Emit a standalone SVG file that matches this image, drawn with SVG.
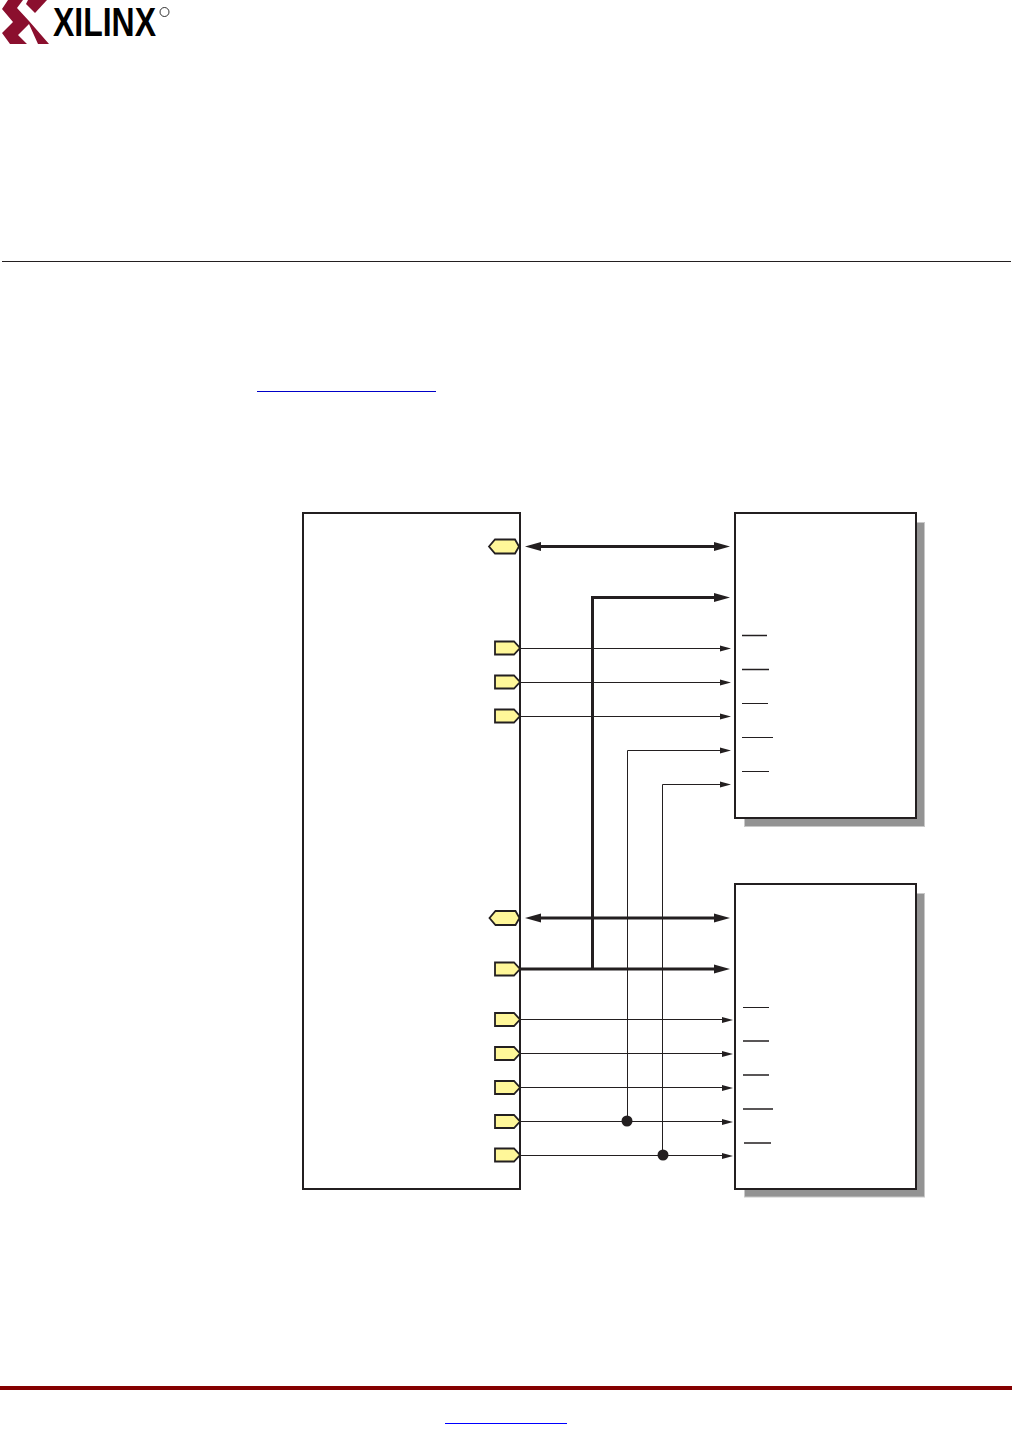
<svg xmlns="http://www.w3.org/2000/svg" width="1012" height="1448" viewBox="0 0 1012 1448">
<style>
.box{fill:#fff;stroke:#231f20;stroke-width:2}
.shadow{fill:#939393;stroke:#c8c8c8;stroke-width:1}
.port{fill:#fff799;stroke:#231f20;stroke-width:1.8}
.thin{fill:none;stroke:#231f20;stroke-width:1}
.thick{fill:none;stroke:#231f20;stroke-width:3}
.bar{stroke:#231f20;stroke-width:1.6}
.barthin{stroke:#231f20;stroke-width:1}
.ah{fill:#231f20}
.dot{fill:#231f20}
</style>
<defs>
<polygon id="p" class="port" points="-25,-6.5 -6,-6.5 0,0 -6,6.5 -25,6.5"/>
<polygon id="b" class="port" points="-30,0 -24,-7 -4,-7 0,0 -4,7 -24,7"/>
<polygon id="as" class="ah" points="0,0 -11,-3 -11,3"/>
<polygon id="al" class="ah" points="0,0 -16,-4.500 -16,4.500"/>
</defs>
<rect width="1012" height="1448" fill="#fff"/>
<g id="logo">
<polygon fill="#8b0f2e" points="8,0 23,0 17,8 29,21 49,44 38,44 29,24 18,35 27,44 10,44 2,33 13,22 2,9"/>
<polygon fill="#8b0f2e" points="28,0 47,0 35,13 26,4"/>
<text x="53" y="36" font-family="'Liberation Sans',sans-serif" font-size="40" font-weight="700" textLength="103" lengthAdjust="spacingAndGlyphs" fill="#000">XILINX</text>
<circle cx="164.500" cy="12" r="4.500" fill="none" stroke="#000" stroke-width="0.800"/>
</g>
<rect id="header-rule" x="2" y="261" width="1009" height="1" fill="#231f20"/>
<rect id="link-rule" x="257" y="391" width="179" height="1" fill="#0000c8"/>
<rect id="footer-bar" x="0" y="1386" width="1012" height="4" fill="#850000"/>
<rect id="footer-link" x="445" y="1423" width="122" height="1" fill="#0000ff"/>
<g id="fpga"><rect class="box" x="303" y="513" width="217" height="676"/></g>
<g id="mem-top">
<rect class="shadow" x="744.500" y="522.500" width="180" height="304"/>
<rect class="box" x="735" y="513" width="181" height="305"/>
<path class="bar" d="M742 635.500H767M742 669.500H769"/>
<path class="barthin" d="M742 703.500H768M742 737.500H773M742 771.500H769"/>
</g>
<g id="mem-bottom">
<rect class="shadow" x="744.500" y="893.500" width="180" height="303.500"/>
<rect class="box" x="735" y="884" width="181" height="305"/>
<path class="barthin" d="M743 1007.500H769"/>
<path class="bar" d="M743 1041H769M743 1075H769M743 1109H773M744 1143H771"/>
</g>
<g id="ports">
<use href="#b" x="519" y="546.500"/>
<use href="#p" x="520" y="648"/>
<use href="#p" x="520" y="682"/>
<use href="#p" x="520" y="716"/>
<use href="#b" x="519.500" y="918"/>
<use href="#p" x="520" y="969"/>
<use href="#p" x="520" y="1019.500"/>
<use href="#p" x="520" y="1053.500"/>
<use href="#p" x="520" y="1087.500"/>
<use href="#p" x="520" y="1121.500"/>
<use href="#p" x="520" y="1155"/>
</g>
<g id="connectors">
<path class="thick" d="M535 546.500H720M535 918H720"/>
<use href="#al" transform="translate(730,546.500)"/>
<use href="#al" transform="translate(525,546.500) rotate(180)"/>
<use href="#al" transform="translate(730,918)"/>
<use href="#al" transform="translate(525,918) rotate(180)"/>
<path class="thick" d="M592.500 969V597.500H720M520 969H720"/>
<use href="#al" transform="translate(730,597.500)"/>
<use href="#al" transform="translate(730,969)"/>
<path class="thin" d="M520 648.500H722M520 682.500H722M520 716.500H722"/>
<use href="#as" transform="translate(731,648.500)"/>
<use href="#as" transform="translate(731,682.500)"/>
<use href="#as" transform="translate(731,716.500)"/>
<path class="thin" d="M627.500 1121V750.500H722M662.500 1155V784.500H722"/>
<use href="#as" transform="translate(731,750.500)"/>
<use href="#as" transform="translate(731,784.500)"/>
<path class="thin" d="M520 1019.500H724M520 1053.500H724M520 1087.500H724M520 1121.500H724M520 1155.500H724"/>
<use href="#as" transform="translate(733,1020)"/>
<use href="#as" transform="translate(733,1054)"/>
<use href="#as" transform="translate(733,1088)"/>
<use href="#as" transform="translate(733,1122)"/>
<use href="#as" transform="translate(733,1156)"/>
<circle class="dot" cx="627" cy="1121" r="5.500"/>
<circle class="dot" cx="663" cy="1155" r="5.500"/>
</g>
</svg>
